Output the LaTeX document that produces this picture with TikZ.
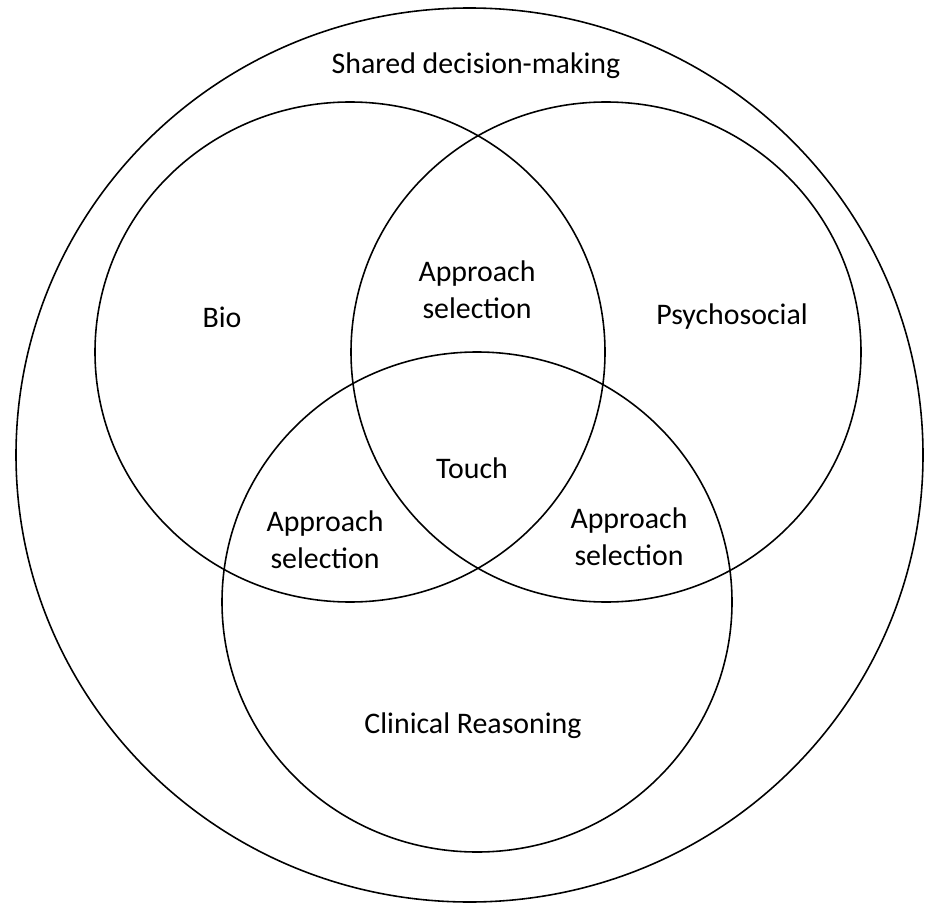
\documentclass[tikz,border=0pt]{standalone}
\usepackage{fontspec}
\setmainfont{Carlito}
\begin{document}
\begin{tikzpicture}[x=0.02cm, y=-0.02cm, line width=0.9pt,
    lbl/.style={font=\fontsize{17}{21}\selectfont, align=center, inner sep=0pt}]

    \useasboundingbox (0,0) rectangle (925,905);

    % centres of the circles
    \coordinate (O) at (469.5,455);   % shared decision-making
    \coordinate (B) at (350,352);     % bio
    \coordinate (P) at (606,352);     % psychosocial
    \coordinate (C) at (477,602);     % clinical reasoning

    % 1. outer circle
    \draw (O) ellipse [x radius=453.5, y radius=447];

    % 2. the three inner circles
    \draw (B) ellipse [x radius=255, y radius=250];
    \draw (P) ellipse [x radius=255, y radius=250];
    \draw (C) ellipse [x radius=255, y radius=250];

    % 3. labels
    \node[lbl] (shared) at (476,66) {Shared decision-making};
    \node[lbl] (bio) at (222,317) {Bio};
    \node[lbl] (psycho) at (732,317) {Psychosocial};
    \node[lbl] (clin) at (473,726) {Clinical Reasoning};
    \node[lbl] (touch) at (472,468) {Touch};

    % 4. overlaps
    \node[lbl] (asBP) at (477,290) {Approach\\selection};
    \node[lbl] (asBC) at (325,540) {Approach\\selection};
    \node[lbl] (asPC) at (629,537) {Approach\\selection};

\end{tikzpicture}
\end{document}
